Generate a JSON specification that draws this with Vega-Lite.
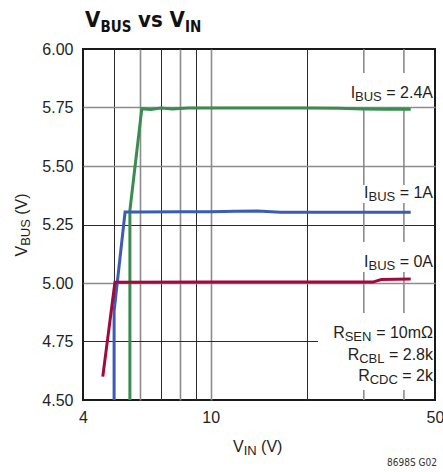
{
  "$schema": "https://vega.github.io/schema/vega-lite/v6.json",
  "width": 352,
  "height": 351,
  "autosize": {"type": "none"},
  "padding": {"left": 83, "top": 49, "right": 8, "bottom": 72},
  "background": "white",
  "config": {"view": {"stroke": "#1a1a1a", "strokeWidth": 2}, "font": "Liberation Sans", "text": {"font": "Liberation Sans", "color": "#231f20", "baseline": "alphabetic", "fontSize": 16}},
  "data": {"values": [{}]},
  "datasets": {
    "curves": [
      {"s": "2.4A", "k": 1, "vin": 5.6, "vbus": 4.5},
      {"s": "2.4A", "k": 2, "vin": 5.6, "vbus": 5.31},
      {"s": "2.4A", "k": 3, "vin": 6.1, "vbus": 5.745},
      {"s": "2.4A", "k": 4, "vin": 6.5, "vbus": 5.742},
      {"s": "2.4A", "k": 5, "vin": 7.0, "vbus": 5.748},
      {"s": "2.4A", "k": 6, "vin": 7.6, "vbus": 5.744},
      {"s": "2.4A", "k": 7, "vin": 8.5, "vbus": 5.748},
      {"s": "2.4A", "k": 8, "vin": 10, "vbus": 5.748},
      {"s": "2.4A", "k": 9, "vin": 15, "vbus": 5.748},
      {"s": "2.4A", "k": 10, "vin": 20, "vbus": 5.748},
      {"s": "2.4A", "k": 11, "vin": 25, "vbus": 5.747},
      {"s": "2.4A", "k": 12, "vin": 30, "vbus": 5.744},
      {"s": "2.4A", "k": 13, "vin": 35, "vbus": 5.742},
      {"s": "2.4A", "k": 14, "vin": 38, "vbus": 5.744},
      {"s": "2.4A", "k": 15, "vin": 42, "vbus": 5.742},
      {"s": "1A", "k": 1, "vin": 5.0, "vbus": 4.5},
      {"s": "1A", "k": 2, "vin": 5.0, "vbus": 4.88},
      {"s": "1A", "k": 3, "vin": 5.41, "vbus": 5.303},
      {"s": "1A", "k": 4, "vin": 6, "vbus": 5.303},
      {"s": "1A", "k": 5, "vin": 8, "vbus": 5.304},
      {"s": "1A", "k": 6, "vin": 10, "vbus": 5.305},
      {"s": "1A", "k": 7, "vin": 12, "vbus": 5.307},
      {"s": "1A", "k": 8, "vin": 14, "vbus": 5.308},
      {"s": "1A", "k": 9, "vin": 16.5, "vbus": 5.302},
      {"s": "1A", "k": 10, "vin": 20, "vbus": 5.302},
      {"s": "1A", "k": 11, "vin": 30, "vbus": 5.302},
      {"s": "1A", "k": 12, "vin": 42, "vbus": 5.302},
      {"s": "0A", "k": 1, "vin": 4.61, "vbus": 4.6},
      {"s": "0A", "k": 2, "vin": 5.03, "vbus": 5.003},
      {"s": "0A", "k": 3, "vin": 10, "vbus": 5.004},
      {"s": "0A", "k": 4, "vin": 20, "vbus": 5.004},
      {"s": "0A", "k": 5, "vin": 32, "vbus": 5.004},
      {"s": "0A", "k": 6, "vin": 34, "vbus": 5.015},
      {"s": "0A", "k": 7, "vin": 42, "vbus": 5.017}
    ],
    "vgrid": [
      {"vin": 30, "vbus": 6.0, "vbus2": 5.897},
      {"vin": 30, "vbus": 5.75, "vbus2": 5.419},
      {"vin": 30, "vbus": 5.342, "vbus2": 5.175},
      {"vin": 30, "vbus": 5.047, "vbus2": 4.872},
      {"vin": 30, "vbus": 4.543, "vbus2": 4.5},
      {"vin": 40, "vbus": 6.0, "vbus2": 5.897},
      {"vin": 40, "vbus": 5.75, "vbus2": 5.419},
      {"vin": 40, "vbus": 5.342, "vbus2": 5.175},
      {"vin": 40, "vbus": 5.047, "vbus2": 4.872},
      {"vin": 40, "vbus": 4.543, "vbus2": 4.5}
    ],
    "hgrid": [
      {"vbus": 4.75, "vin": 4, "vin2": 21.6}
    ]
  },
  "layer": [
    {
      "data": {"name": "vgrid"},
      "mark": {"type": "rule", "color": "#8c8c8c", "strokeWidth": 1.6},
      "encoding": {
        "x": {
          "field": "vin", "type": "quantitative",
          "scale": {"type": "log", "domain": [4, 50], "nice": false},
          "axis": {
            "values": [4, 5, 6, 7, 8, 9, 10, 20, 30, 40, 50],
            "labelExpr": "datum.value == 4 ? '4' : datum.value == 10 ? '10' : datum.value == 50 ? '50' : ''",
            "title": null, "grid": true, "ticks": false, "domain": false,
            "labelFontSize": 16, "labelColor": "#231f20", "labelPadding": 9,
            "labelFont": "Liberation Sans", "labelFlush": false, "labelOverlap": false,
            "gridColor": {"condition": {"test": "datum.value == 6 || datum.value == 8 || datum.value == 10", "value": "#8c8c8c"}, "value": "#2a2a2a"},
            "gridWidth": {"condition": {"test": "datum.value == 6 || datum.value == 8 || datum.value == 10", "value": 1.6}, "value": 1},
            "gridOpacity": {"condition": {"test": "datum.value == 4 || datum.value == 30 || datum.value == 40 || datum.value == 50", "value": 0}, "value": 1}
          }
        },
        "y": {
          "field": "vbus", "type": "quantitative",
          "scale": {"domain": [4.5, 6], "nice": false, "zero": false},
          "axis": {
            "values": [4.5, 4.75, 5, 5.25, 5.5, 5.75, 6],
            "format": ".2f", "title": null, "ticks": false, "domain": false,
            "labelFontSize": 16, "labelColor": "#231f20", "labelPadding": 10,
            "labelFont": "Liberation Sans", "labelFlush": false,
            "gridColor": {"condition": {"test": "datum.value == 5.25", "value": "#2a2a2a"}, "value": "#8c8c8c"},
            "gridWidth": {"condition": {"test": "datum.value == 5.25", "value": 1}, "value": 1.6},
            "gridOpacity": {"condition": {"test": "datum.value == 4.5 || datum.value == 4.75 || datum.value == 6", "value": 0}, "value": 1}
          }
        },
        "y2": {"field": "vbus2"}
      }
    },
    {
      "data": {"name": "hgrid"},
      "mark": {"type": "rule", "color": "#2a2a2a", "strokeWidth": 1},
      "encoding": {
        "y": {"field": "vbus", "type": "quantitative"},
        "x": {"field": "vin", "type": "quantitative"},
        "x2": {"field": "vin2"}
      }
    },
    {
      "data": {"name": "curves"},
      "mark": {"type": "line", "strokeWidth": 3},
      "encoding": {
        "x": {"field": "vin", "type": "quantitative"},
        "y": {"field": "vbus", "type": "quantitative"},
        "order": {"field": "k", "type": "quantitative"},
        "color": {"field": "s", "type": "nominal", "scale": {"domain": ["1A", "2.4A", "0A"], "range": ["#3b5bb5", "#3a8c50", "#a00a3c"]}, "legend": null}
      }
    },
    {"mark": {"type": "text", "text": "V", "align": "left", "dx": 2, "dy": -22, "fontSize": 22, "fontWeight": "bold", "font": "DejaVu Sans Condensed", "color": "#111"}, "encoding": {"x": {"datum": 4}, "y": {"datum": 6}}},
    {"mark": {"type": "text", "text": "BUS", "align": "left", "dx": 17.5, "dy": -17, "fontSize": 15, "fontWeight": "bold", "font": "DejaVu Sans Condensed", "color": "#111"}, "encoding": {"x": {"datum": 4}, "y": {"datum": 6}}},
    {"mark": {"type": "text", "text": "vs V", "align": "left", "dx": 55, "dy": -22, "fontSize": 22, "fontWeight": "bold", "font": "DejaVu Sans Condensed", "color": "#111"}, "encoding": {"x": {"datum": 4}, "y": {"datum": 6}}},
    {"mark": {"type": "text", "text": "IN", "align": "left", "dx": 102, "dy": -17, "fontSize": 15, "fontWeight": "bold", "font": "DejaVu Sans Condensed", "color": "#111"}, "encoding": {"x": {"datum": 4}, "y": {"datum": 6}}},

    {"mark": {"type": "text", "text": "V", "align": "left", "angle": 270, "dx": 0, "dy": -56, "fontSize": 16}, "encoding": {"x": {"datum": 4}, "y": {"datum": 5.113}}},
    {"mark": {"type": "text", "text": "BUS", "align": "left", "angle": 270, "dx": 10.7, "dy": -53, "fontSize": 13}, "encoding": {"x": {"datum": 4}, "y": {"datum": 5.113}}},
    {"mark": {"type": "text", "text": "(V)", "align": "left", "angle": 270, "dx": 41.8, "dy": -56, "fontSize": 16}, "encoding": {"x": {"datum": 4}, "y": {"datum": 5.113}}},

    {"mark": {"type": "text", "text": "V", "align": "left", "dx": 150, "dy": 52, "fontSize": 16}, "encoding": {"x": {"datum": 4}, "y": {"datum": 4.5}}},
    {"mark": {"type": "text", "text": "IN", "align": "left", "dx": 160.7, "dy": 55, "fontSize": 13}, "encoding": {"x": {"datum": 4}, "y": {"datum": 4.5}}},
    {"mark": {"type": "text", "text": "(V)", "align": "left", "dx": 178.1, "dy": 52, "fontSize": 16}, "encoding": {"x": {"datum": 4}, "y": {"datum": 4.5}}},

    {"mark": {"type": "text", "text": "8698S G02", "align": "right", "dx": 2, "dy": 66, "fontSize": 10, "font": "DejaVu Sans Condensed", "color": "#333"}, "encoding": {"x": {"datum": 50}, "y": {"datum": 4.5}}},

    {"mark": {"type": "text", "text": " = 2.4A", "align": "right", "dx": -2, "fontSize": 16}, "encoding": {"x": {"datum": 50}, "y": {"datum": 5.79}}},
    {"mark": {"type": "text", "text": "BUS", "align": "right", "dx": -53.2, "dy": 3, "fontSize": 13}, "encoding": {"x": {"datum": 50}, "y": {"datum": 5.79}}},
    {"mark": {"type": "text", "text": "I", "align": "right", "dx": -79.9, "fontSize": 16}, "encoding": {"x": {"datum": 50}, "y": {"datum": 5.79}}},

    {"mark": {"type": "text", "text": " = 1A", "align": "right", "dx": -2, "fontSize": 16}, "encoding": {"x": {"datum": 50}, "y": {"datum": 5.362}}},
    {"mark": {"type": "text", "text": "BUS", "align": "right", "dx": -39.8, "dy": 3, "fontSize": 13}, "encoding": {"x": {"datum": 50}, "y": {"datum": 5.362}}},
    {"mark": {"type": "text", "text": "I", "align": "right", "dx": -66.5, "fontSize": 16}, "encoding": {"x": {"datum": 50}, "y": {"datum": 5.362}}},

    {"mark": {"type": "text", "text": " = 0A", "align": "right", "dx": -2, "fontSize": 16}, "encoding": {"x": {"datum": 50}, "y": {"datum": 5.07}}},
    {"mark": {"type": "text", "text": "BUS", "align": "right", "dx": -39.8, "dy": 3, "fontSize": 13}, "encoding": {"x": {"datum": 50}, "y": {"datum": 5.07}}},
    {"mark": {"type": "text", "text": "I", "align": "right", "dx": -66.5, "fontSize": 16}, "encoding": {"x": {"datum": 50}, "y": {"datum": 5.07}}},

    {"mark": {"type": "text", "text": " = 10mΩ", "align": "right", "dx": -2, "fontSize": 16}, "encoding": {"x": {"datum": 50}, "y": {"datum": 4.764}}},
    {"mark": {"type": "text", "text": "SEN", "align": "right", "dx": -63.6, "dy": 3, "fontSize": 13}, "encoding": {"x": {"datum": 50}, "y": {"datum": 4.764}}},
    {"mark": {"type": "text", "text": "R", "align": "right", "dx": -90.3, "fontSize": 16}, "encoding": {"x": {"datum": 50}, "y": {"datum": 4.764}}},

    {"mark": {"type": "text", "text": " = 2.8k", "align": "right", "dx": -2, "fontSize": 16}, "encoding": {"x": {"datum": 50}, "y": {"datum": 4.671}}},
    {"mark": {"type": "text", "text": "CBL", "align": "right", "dx": -50.5, "dy": 3, "fontSize": 13}, "encoding": {"x": {"datum": 50}, "y": {"datum": 4.671}}},
    {"mark": {"type": "text", "text": "R", "align": "right", "dx": -75.8, "fontSize": 16}, "encoding": {"x": {"datum": 50}, "y": {"datum": 4.671}}},

    {"mark": {"type": "text", "text": " = 2k", "align": "right", "dx": -2, "fontSize": 16}, "encoding": {"x": {"datum": 50}, "y": {"datum": 4.582}}},
    {"mark": {"type": "text", "text": "CDC", "align": "right", "dx": -37.1, "dy": 3, "fontSize": 13}, "encoding": {"x": {"datum": 50}, "y": {"datum": 4.582}}},
    {"mark": {"type": "text", "text": "R", "align": "right", "dx": -65.3, "fontSize": 16}, "encoding": {"x": {"datum": 50}, "y": {"datum": 4.582}}}
  ]
}
